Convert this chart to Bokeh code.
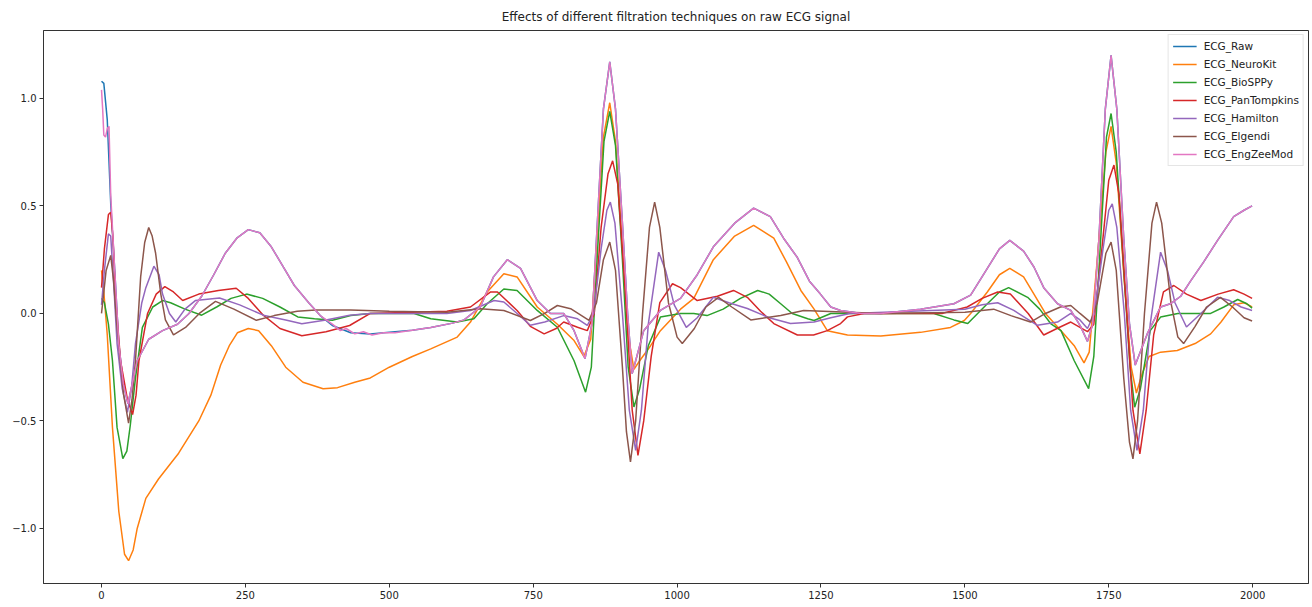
from bokeh.plotting import figure
from bokeh.models import Legend, LegendItem, FixedTicker, CustomJSTickFormatter, Range1d
from bokeh.embed import file_html
from bokeh.resources import INLINE

# ---------------- data ----------------
raw_x = [0, 4, 10, 16, 23, 30, 38, 46, 54, 62, 82, 106, 132, 152, 174, 195, 215, 235, 255, 275,
         295, 315, 335, 360, 380, 401, 433, 467, 500, 540, 572, 610, 630, 658, 681, 705, 728, 757,
         780, 803, 821, 840, 852, 862, 872, 883, 893, 905, 914, 922, 930, 942, 971, 1006, 1035,
         1063, 1100, 1133, 1162, 1185, 1209, 1230, 1249, 1267, 1284, 1320, 1354, 1423, 1481, 1510,
         1539, 1560, 1578, 1602, 1620, 1637, 1661, 1684, 1701, 1713, 1722, 1733, 1744, 1754, 1764,
         1776, 1786, 1796, 1806, 1817, 1840, 1857, 1875, 1892, 1915, 1939, 1967, 1985, 1999]
raw_y = [1.08, 1.07, 0.90, 0.51, 0.20, -0.14, -0.33, -0.42, -0.32, -0.22, -0.12, -0.08, -0.05,
         0.0, 0.08, 0.18, 0.28, 0.35, 0.39, 0.375, 0.31, 0.22, 0.13, 0.05, -0.01, -0.056, -0.09,
         -0.096, -0.088, -0.078, -0.065, -0.045, -0.03, 0.03, 0.17, 0.25, 0.21, 0.06, 0.0, 0.0,
         -0.08, -0.21, -0.05, 0.45, 0.95, 1.17, 0.95, 0.42, 0.0, -0.28, -0.20, -0.08, 0.014, 0.07,
         0.18, 0.31, 0.42, 0.49, 0.45, 0.35, 0.26, 0.15, 0.09, 0.03, 0.014, 0.0, 0.0, 0.02, 0.045,
         0.085, 0.21, 0.30, 0.34, 0.29, 0.216, 0.12, 0.045, 0.014, -0.06, -0.13, -0.05, 0.35, 0.95,
         1.20, 0.95, 0.35, -0.05, -0.24, -0.17, -0.094, 0.03, 0.045, 0.08, 0.15, 0.24, 0.34, 0.45,
         0.48, 0.50]

neuro_x = [0, 4, 10, 19, 30, 40, 47, 55, 62, 77, 99, 134, 169, 190, 207, 222, 236, 255, 273, 295,
           320, 350, 385, 410, 440, 467, 500, 540, 572, 618, 641, 670, 699, 722, 757, 792, 821, 838,
           850, 862, 872, 883, 893, 905, 915, 925, 935, 954, 971, 1006, 1029, 1063, 1100, 1133,
           1168, 1190, 1215, 1238, 1261, 1296, 1354, 1423, 1475, 1499, 1510, 1539, 1560, 1578,
           1602, 1620, 1640, 1667, 1690, 1707, 1716, 1730, 1745, 1754, 1763, 1777, 1789, 1798,
           1808, 1820, 1840, 1869, 1900, 1927, 1945, 1967, 1985, 1999]
neuro_y = [0.20, 0.10, -0.10, -0.53, -0.92, -1.12, -1.15, -1.10, -1.00, -0.86, -0.77, -0.65, -0.50,
           -0.38, -0.24, -0.15, -0.09, -0.07, -0.08, -0.15, -0.25, -0.32, -0.35, -0.345, -0.32,
           -0.30, -0.25, -0.20, -0.165, -0.11, -0.04, 0.10, 0.185, 0.17, 0.03, -0.05, -0.126,
           -0.20, -0.12, 0.40, 0.82, 0.98, 0.80, 0.30, -0.10, -0.26, -0.22, -0.15, -0.08, 0.02,
           0.07, 0.25, 0.36, 0.41, 0.35, 0.24, 0.107, 0.02, -0.08, -0.10, -0.105, -0.088, -0.065,
           -0.033, 0.0, 0.10, 0.18, 0.21, 0.17, 0.09, 0.0, -0.08, -0.15, -0.23, -0.18, 0.25, 0.75,
           0.87, 0.70, 0.15, -0.25, -0.37, -0.28, -0.20, -0.18, -0.172, -0.14, -0.095, -0.04,
           0.04, 0.05, 0.03]

bio_x = [0, 5, 12, 19, 27, 37, 44, 50, 59, 71, 89, 106, 120, 145, 174, 200, 225, 252, 280, 310,
         341, 370, 401, 433, 467, 543, 572, 618, 647, 670, 699, 722, 757, 792, 821, 841, 851, 862,
         873, 883, 893, 905, 915, 925, 935, 950, 971, 1006, 1029, 1052, 1080, 1110, 1140, 1160,
         1180, 1200, 1227, 1238, 1267, 1296, 1446, 1481, 1505, 1539, 1560, 1576, 1609, 1630, 1649,
         1667, 1690, 1715, 1724, 1735, 1746, 1754, 1763, 1776, 1787, 1795, 1805, 1822, 1840, 1870,
         1927, 1950, 1974, 1990, 1999]
bio_y = [0.07, 0.05, -0.05, -0.22, -0.53, -0.675, -0.64, -0.52, -0.30, -0.065, 0.03, 0.06, 0.05,
         0.02, -0.008, 0.03, 0.07, 0.09, 0.07, 0.03, -0.016, -0.025, -0.032, -0.01, 0.0, 0.0,
         -0.025, -0.04, -0.025, 0.045, 0.114, 0.107, 0.014, -0.064, -0.22, -0.366, -0.25, 0.30,
         0.80, 0.94, 0.78, 0.25, -0.25, -0.435, -0.35, -0.15, -0.017, 0.0, 0.0, -0.01, 0.02, 0.07,
         0.107, 0.09, 0.045, 0.0, -0.025, -0.033, 0.0, 0.0, 0.0, -0.03, -0.047, 0.045, 0.10, 0.12,
         0.075, 0.02, -0.047, -0.08, -0.22, -0.35, -0.20, 0.30, 0.82, 0.93, 0.75, 0.20, -0.25,
         -0.436, -0.35, -0.08, -0.017, 0.0, 0.0, 0.03, 0.065, 0.045, 0.025]

pan_x = [0, 5, 12, 16, 20, 24, 33, 45, 54, 60, 65, 80, 95, 110, 125, 141, 169, 203, 234, 255, 281,
         310, 348, 390, 431, 467, 540, 600, 641, 676, 688, 722, 745, 769, 790, 803, 827, 844, 856,
         868, 880, 888, 897, 910, 922, 932, 942, 955, 970, 992, 1006, 1035, 1070, 1098, 1122, 1145,
         1168, 1209, 1237, 1261, 1284, 1296, 1325, 1460, 1504, 1530, 1557, 1579, 1610, 1637, 1660,
         1684, 1713, 1724, 1738, 1750, 1759, 1768, 1780, 1792, 1804, 1815, 1828, 1845, 1863, 1885,
         1910, 1940, 1967, 1985, 1999]
pan_y = [0.12, 0.30, 0.46, 0.47, 0.35, 0.09, -0.22, -0.40, -0.47, -0.38, -0.22, 0.0, 0.09, 0.125,
         0.10, 0.06, 0.09, 0.107, 0.117, 0.07, -0.008, -0.07, -0.104, -0.085, -0.056, 0.0, 0.006,
         0.01, 0.03, 0.10, 0.10, 0.014, -0.06, -0.095, -0.07, -0.04, -0.064, -0.08, 0.0, 0.40,
         0.65, 0.71, 0.60, 0.10, -0.45, -0.66, -0.50, -0.20, 0.05, 0.138, 0.12, 0.06, 0.08, 0.107,
         0.075, 0.01, -0.047, -0.10, -0.10, -0.08, -0.047, -0.016, 0.0, 0.0, 0.03, 0.07, 0.10,
         0.09, 0.0, -0.10, -0.07, -0.04, -0.085, -0.05, 0.30, 0.62, 0.69, 0.55, 0.05, -0.45,
         -0.653, -0.45, -0.10, 0.10, 0.13, 0.09, 0.06, 0.09, 0.11, 0.09, 0.07]

ham_x = [0, 5, 12, 16, 22, 27, 36, 45, 52, 59, 70, 77, 91, 100, 106, 118, 129, 145, 163, 205, 240,
         281, 320, 348, 390, 431, 467, 600, 641, 682, 699, 722, 745, 770, 803, 827, 844, 855, 868,
         878, 884, 892, 905, 917, 928, 938, 950, 968, 980, 995, 1016, 1035, 1063, 1090, 1122, 1160,
         1197, 1238, 1267, 1300, 1500, 1530, 1557, 1585, 1626, 1661, 1684, 1700, 1713, 1725, 1740,
         1750, 1756, 1764, 1777, 1788, 1799, 1810, 1822, 1840, 1852, 1865, 1885, 1910, 1939, 1960,
         1980, 1999]
ham_y = [0.04, 0.20, 0.37, 0.36, 0.10, -0.14, -0.35, -0.46, -0.35, -0.14, 0.05, 0.12, 0.22, 0.18,
         0.09, 0.0, -0.04, 0.02, 0.06, 0.072, 0.04, -0.008, -0.03, -0.048, -0.03, -0.008, 0.0, 0.0,
         0.014, 0.06, 0.053, 0.0, -0.055, -0.04, -0.01, -0.025, -0.056, 0.0, 0.30, 0.48, 0.518,
         0.42, 0.0, -0.45, -0.637, -0.45, -0.05, 0.285, 0.20, 0.04, -0.065, -0.02, 0.075, 0.05,
         0.023, -0.02, -0.047, -0.04, -0.02, 0.0, 0.02, 0.04, 0.05, 0.014, -0.055, -0.04, 0.0,
         -0.03, -0.07, 0.0, 0.30, 0.48, 0.51, 0.40, 0.0, -0.45, -0.637, -0.45, -0.05, 0.285, 0.20,
         0.05, -0.063, 0.0, 0.075, 0.06, 0.03, 0.014]

elg_x = [0, 8, 16, 21, 27, 38, 47, 53, 59, 68, 75, 82, 88, 94, 103, 111, 125, 146, 170, 198, 230,
         269, 300, 340, 372, 433, 500, 600, 658, 699, 745, 770, 792, 815, 847, 860, 872, 883, 893,
         905, 912, 919, 928, 940, 952, 961, 970, 985, 1000, 1009, 1030, 1050, 1072, 1095, 1128,
         1180, 1220, 1354, 1500, 1550, 1580, 1614, 1640, 1666, 1684, 1700, 1718, 1730, 1745, 1754,
         1763, 1776, 1786, 1792, 1800, 1812, 1825, 1833, 1842, 1858, 1870, 1880, 1900, 1920, 1944,
         1965, 1985, 1999]
elg_y = [0.0, 0.20, 0.27, 0.15, -0.065, -0.37, -0.51, -0.40, -0.22, 0.17, 0.33, 0.40, 0.36, 0.28,
         0.09, -0.03, -0.10, -0.065, 0.0, 0.056, 0.02, -0.032, -0.01, 0.01, 0.016, 0.016, 0.01,
         0.006, 0.022, 0.014, -0.033, 0.0, 0.037, 0.022, -0.032, 0.05, 0.25, 0.332, 0.20, -0.25,
         -0.55, -0.691, -0.50, 0.0, 0.40, 0.518, 0.40, 0.05, -0.11, -0.14, -0.07, 0.03, 0.075,
         0.03, -0.03, -0.01, 0.014, 0.0, 0.006, 0.02, -0.01, -0.04, 0.0, 0.03, 0.037, 0.0, -0.04,
         0.05, 0.28, 0.332, 0.20, -0.30, -0.60, -0.676, -0.50, 0.0, 0.42, 0.518, 0.42, 0.05, -0.11,
         -0.14, -0.06, 0.03, 0.075, 0.03, -0.02, -0.035]

eng_x = [0, 2, 4, 7, 10, 13, 16, 23, 30, 38, 46, 54, 62, 82, 106, 132, 152, 174, 195, 215, 235,
         255, 275, 295, 315, 335, 360, 380, 401, 415, 425, 440, 455, 470, 490, 510, 540, 572, 610,
         630, 658, 681, 705, 728, 757, 780, 803, 821, 840, 852, 862, 872, 883, 893, 905, 914, 922,
         930, 942, 971, 1006, 1035, 1063, 1100, 1133, 1162, 1185, 1209, 1230, 1249, 1267, 1284,
         1320, 1354, 1423, 1481, 1510, 1539, 1560, 1578, 1602, 1620, 1637, 1661, 1684, 1701, 1713,
         1722, 1733, 1744, 1754, 1764, 1776, 1786, 1796, 1806, 1817, 1840, 1857, 1875, 1892, 1915,
         1939, 1967, 1985, 1999]
eng_y = [1.04, 0.95, 0.83, 0.82, 0.86, 0.87, 0.55, 0.20, -0.14, -0.33, -0.42, -0.32, -0.22, -0.12,
         -0.08, -0.05, 0.0, 0.08, 0.18, 0.28, 0.35, 0.39, 0.375, 0.31, 0.22, 0.13, 0.05, -0.01,
         -0.05, -0.08, -0.07, -0.095, -0.085, -0.10, -0.09, -0.09, -0.078, -0.065, -0.045, -0.03,
         0.03, 0.17, 0.25, 0.21, 0.06, 0.0, 0.0, -0.08, -0.21, -0.05, 0.45, 0.95, 1.17, 0.95, 0.42,
         0.0, -0.28, -0.20, -0.08, 0.014, 0.07, 0.18, 0.31, 0.42, 0.49, 0.45, 0.35, 0.26, 0.15,
         0.09, 0.03, 0.014, 0.0, 0.0, 0.02, 0.045, 0.085, 0.21, 0.30, 0.34, 0.29, 0.216, 0.12,
         0.045, 0.014, -0.06, -0.13, -0.05, 0.35, 0.95, 1.20, 0.95, 0.35, -0.05, -0.24, -0.17,
         -0.094, 0.03, 0.045, 0.08, 0.15, 0.24, 0.34, 0.45, 0.48, 0.50]

series_names = ["ECG_Raw", "ECG_NeuroKit", "ECG_BioSPPy", "ECG_PanTompkins",
                "ECG_Hamilton", "ECG_Elgendi", "ECG_EngZeeMod"]
series_x = [raw_x, neuro_x, bio_x, pan_x, ham_x, elg_x, eng_x]
series_y = [raw_y, neuro_y, bio_y, pan_y, ham_y, elg_y, eng_y]
colors = ["#1f77b4", "#ff7f0e", "#2ca02c", "#d62728", "#9467bd", "#8c564b", "#e377c2"]
x_ticks = [0, 250, 500, 750, 1000, 1250, 1500, 1750, 2000]
y_ticks = [-1.0, -0.5, 0.0, 0.5, 1.0]
title_text = "Effects of different filtration techniques on raw ECG signal"

FONT = "DejaVu Sans"

p = figure(width=1310, height=605, output_backend="svg", toolbar_location=None,
           x_range=Range1d(-100.8, 2097), y_range=Range1d(-1.256, 1.316),
           min_border_left=43, min_border_right=2, min_border_top=30, min_border_bottom=22)
p.title.text = title_text
p.title.align = "center"
p.title.vertical_align = "top"
p.title.text_font = FONT
p.title.text_font_size = "12px"
p.title.text_font_style = "normal"
p.title.text_color = "#222222"
p.title.standoff = 10
p.title.offset = 0

p.grid.visible = False
p.outline_line_color = "#333333"
p.outline_line_width = 1
p.background_fill_color = "white"
p.border_fill_color = "white"

for ax in (p.xaxis[0], p.yaxis[0]):
    ax.major_label_text_font = FONT
    ax.major_label_text_font_size = "10px"
    ax.major_label_text_color = "#222222"
    ax.axis_line_color = "#333333"
    ax.major_tick_line_color = "#333333"
    ax.major_tick_in = 0
    ax.major_tick_out = 4
    ax.minor_tick_line_color = None
    ax.major_label_standoff = 3

p.xaxis[0].ticker = FixedTicker(ticks=x_ticks)
p.yaxis[0].ticker = FixedTicker(ticks=y_ticks)
p.yaxis[0].formatter = CustomJSTickFormatter(code="return tick.toFixed(1).replace('-', '\u2212');")

items = []
for name, xs, ys, c in zip(series_names, series_x, series_y, colors):
    r = p.line(xs, ys, line_color=c, line_width=1.5)
    items.append(LegendItem(label=name, renderers=[r]))

legend = Legend(items=items, location="top_right")
legend.label_text_font = FONT
legend.label_text_font_size = "10.5px"
legend.label_text_color = "#222222"
legend.label_height = 14
legend.glyph_height = 14
legend.glyph_width = 24
legend.spacing = 4
legend.padding = 4
legend.margin = 4
legend.label_standoff = 7
legend.border_line_color = "#cccccc"
legend.border_line_width = 1
legend.background_fill_alpha = 0.8
p.add_layout(legend)

open("out.html", "w").write(file_html(p, INLINE))
